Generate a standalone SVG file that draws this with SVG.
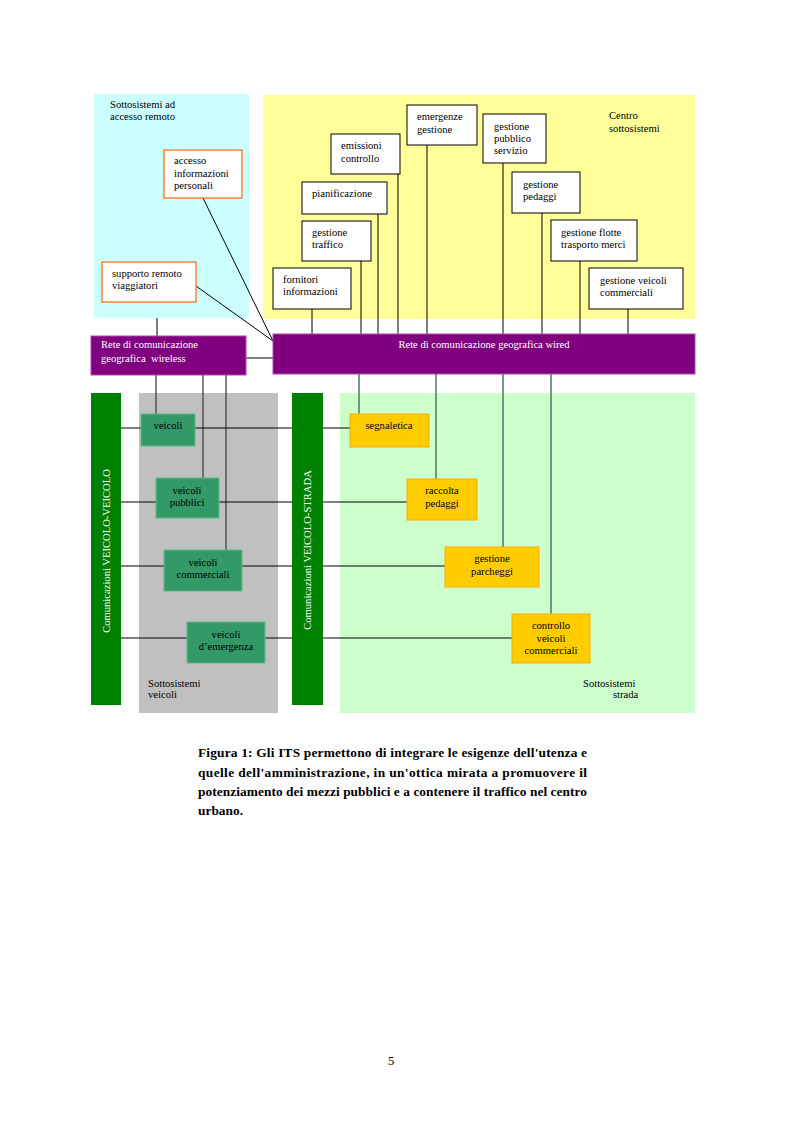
<svg xmlns="http://www.w3.org/2000/svg" width="793" height="1123" viewBox="0 0 793 1123">
<style>
text{font-family:"Liberation Serif","Times New Roman",serif;font-size:10.6px;fill:#000}
.w{fill:#fff}
.c{text-anchor:middle}
.box{fill:#fff;stroke:#000;stroke-width:1}
.rbox{fill:#fff;stroke:#ff6600;stroke-width:1.2}
.vbox{fill:#339966;stroke:#5cb88a;stroke-width:1}
.obox{fill:#ffcc00;stroke:#ffaa00;stroke-width:1}
.net{fill:#800080;stroke:#a64ca6;stroke-width:1}
.bar{fill:#008000}
.l{stroke:#000;stroke-width:1;fill:none}
.lg{stroke:#444;stroke-width:1.3;fill:none}
.lr{stroke:#5f7d6d;stroke-width:1.6;fill:none}
.cap{font-size:13.4px;font-weight:bold}
</style>
<rect width="793" height="1123" fill="#fff"/>
<g id="areas">
<rect x="94" y="94" width="155" height="224" fill="#ccffff"/>
<rect x="263" y="95" width="432" height="224" fill="#ffff99"/>
<rect x="139" y="393" width="139" height="320" fill="#c0c0c0"/>
<rect x="340" y="393" width="355" height="320" fill="#ccffcc"/>
<text x="110" y="108">Sottosistemi ad</text>
<text x="110" y="120">accesso remoto</text>
<text x="609" y="119">Centro</text>
<text x="609" y="132">sottosistemi</text>
<text x="148" y="687">Sottosistemi</text>
<text x="148" y="698">veicoli</text>
<text x="583" y="687">Sottosistemi</text>
<text x="613" y="698">strada</text>
</g>
<g id="connectors">
<path class="l" d="M157 318V336M203 198L273 341M196 286L273 341M246 358H273"/>
<path class="l" d="M312 309V334M361 261V334M378 214V334M398 174V334M427 145V334M503 163V334M542 213V334M580 261V334M628 309V334"/>
<path class="lg" d="M156 375V414M203 375V478M226 375V550"/>
<path class="lr" d="M359 374V414M436 374V479M503 374V547M551 374V614"/>
<path class="l" d="M121 428H350M121 502H407M121 566H445M121 638H512"/>
</g>
<g id="bar-vv">
<rect class="bar" x="91" y="393" width="30" height="312"/>
<text class="w c" transform="translate(110 551) rotate(-90)">Comunicazioni VEICOLO-VEICOLO</text>
</g>
<g id="bar-vs">
<rect class="bar" x="292" y="393" width="31" height="312"/>
<text class="w c" transform="translate(311 550) rotate(-90)">Comunicazioni VEICOLO-STRADA</text>
</g>
<g id="net-wireless">
<rect class="net" x="91" y="336" width="155" height="39"/>
<text class="w" x="101" y="348">Rete di comunicazione</text>
<text class="w" x="101" y="362" xml:space="preserve">geografica  wireless</text>
</g>
<g id="net-wired">
<rect class="net" x="273" y="334" width="422" height="40"/>
<text class="w c" x="484" y="348">Rete di comunicazione geografica wired</text>
</g>
<g id="accesso">
<rect class="rbox" x="164" y="150" width="78" height="48"/>
<text x="174" y="164">accesso</text>
<text x="174" y="177">informazioni</text>
<text x="174" y="189">personali</text>
</g>
<g id="supporto">
<rect class="rbox" x="102" y="262" width="94" height="40"/>
<text x="112" y="277">supporto remoto</text>
<text x="112" y="289">viaggiatori</text>
</g>
<g id="fornitori">
<rect class="box" x="273" y="268" width="78" height="41"/>
<text x="283" y="283">fornitori</text>
<text x="283" y="295">informazioni</text>
</g>
<g id="traffico">
<rect class="box" x="302" y="221" width="69" height="40"/>
<text x="312" y="236">gestione</text>
<text x="312" y="248">traffico</text>
</g>
<g id="pianificazione">
<rect class="box" x="302" y="182" width="85" height="32"/>
<text x="312" y="197">pianificazione</text>
</g>
<g id="emissioni">
<rect class="box" x="331" y="134" width="69" height="40"/>
<text x="341" y="149">emissioni</text>
<text x="341" y="162">controllo</text>
</g>
<g id="emergenze">
<rect class="box" x="407" y="105" width="70" height="40"/>
<text x="417" y="120">emergenze</text>
<text x="417" y="133">gestione</text>
</g>
<g id="pubblico">
<rect class="box" x="483" y="114" width="63" height="49"/>
<text x="494" y="130">gestione</text>
<text x="494" y="142">pubblico</text>
<text x="494" y="154">servizio</text>
</g>
<g id="pedaggi">
<rect class="box" x="512" y="172" width="68" height="41"/>
<text x="523" y="188">gestione</text>
<text x="523" y="200">pedaggi</text>
</g>
<g id="flotte">
<rect class="box" x="551" y="220" width="86" height="41"/>
<text x="561" y="236">gestione flotte</text>
<text x="561" y="248">trasporto merci</text>
</g>
<g id="commerciali-centro">
<rect class="box" x="589" y="268" width="94" height="41"/>
<text x="600" y="284">gestione veicoli</text>
<text x="600" y="296">commerciali</text>
</g>
<g id="veicoli">
<rect class="vbox" x="141" y="414" width="54" height="32"/>
<text class="c" x="168" y="429">veicoli</text>
</g>
<g id="veicoli-pubblici">
<rect class="vbox" x="156" y="478" width="63" height="40"/>
<text class="c" x="187" y="494">veicoli</text>
<text class="c" x="187" y="506">pubblici</text>
</g>
<g id="veicoli-commerciali">
<rect class="vbox" x="164" y="550" width="78" height="41"/>
<text class="c" x="203" y="566">veicoli</text>
<text class="c" x="203" y="578">commerciali</text>
</g>
<g id="veicoli-emergenza">
<rect class="vbox" x="187" y="622" width="78" height="41"/>
<text class="c" x="226" y="638">veicoli</text>
<text class="c" x="226" y="650">d’emergenza</text>
</g>
<g id="segnaletica">
<rect class="obox" x="350" y="414" width="79" height="33"/>
<text class="c" x="389" y="429">segnaletica</text>
</g>
<g id="raccolta">
<rect class="obox" x="407" y="479" width="70" height="41"/>
<text class="c" x="442" y="494">raccolta</text>
<text class="c" x="442" y="507">pedaggi</text>
</g>
<g id="parcheggi">
<rect class="obox" x="445" y="547" width="94" height="40"/>
<text class="c" x="492" y="562">gestione</text>
<text class="c" x="492" y="575">parcheggi</text>
</g>
<g id="controllo">
<rect class="obox" x="512" y="614" width="78" height="49"/>
<text class="c" x="551" y="629">controllo</text>
<text class="c" x="551" y="642">veicoli</text>
<text class="c" x="551" y="654">commerciali</text>
</g>
<g id="caption">
<text class="cap" x="198" y="757" textLength="389" lengthAdjust="spacing">Figura 1: Gli ITS permettono di integrare le esigenze dell'utenza e</text>
<text class="cap" x="198" y="777" textLength="389" lengthAdjust="spacing">quelle dell'amministrazione, in un'ottica mirata a promuovere il</text>
<text class="cap" x="198" y="796" textLength="389" lengthAdjust="spacing">potenziamento dei mezzi pubblici e a contenere il traffico nel centro</text>
<text class="cap" x="198" y="815">urbano.</text>
</g>
<text x="391" y="1065" class="c" style="font-size:12.5px">5</text>
</svg>
